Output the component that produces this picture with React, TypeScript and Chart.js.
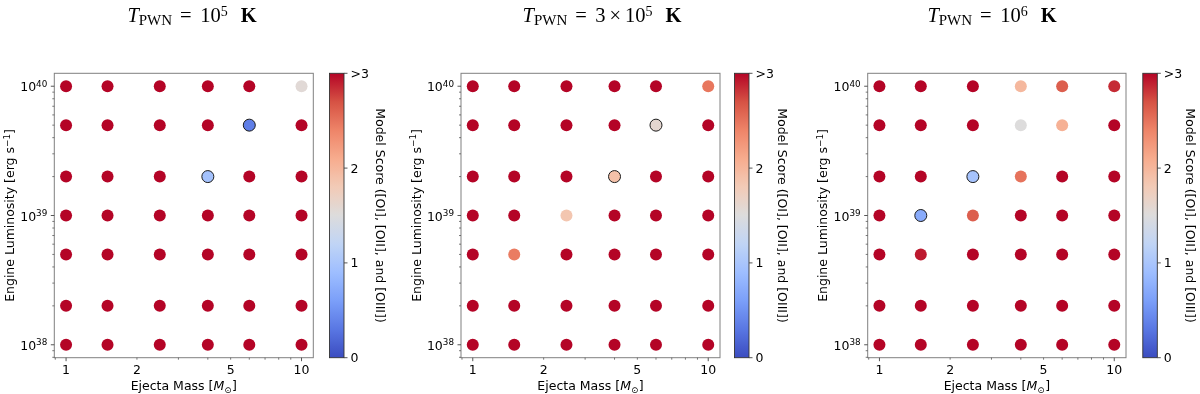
import React, { useEffect, useRef } from 'react';
import { Chart, registerables } from 'chart.js';
Chart.register(...registerables);

// ---------------- data ----------------
const masses = [1, 1.5, 2.5, 4, 6, 10];
const luminosities = [1e38, 2e38, 5e38, 1e39, 2e39, 5e39, 1e40];
const O = 4; // score above the colour-bar limit (">3")
// rows follow `luminosities` (low -> high), columns follow `masses`
const scoresT1e5 = [
  [O, O, O, O, O, O],
  [O, O, O, O, O, O],
  [O, O, O, O, O, O],
  [O, O, O, O, O, O],
  [O, O, O, 0.95, O, O],
  [O, O, O, O, 0.35, O],
  [O, O, O, O, O, 1.55],
];
const scoresT3e5 = [
  [O, O, O, O, O, O],
  [O, O, O, O, O, O],
  [O, 2.45, O, O, O, O],
  [O, O, 1.85, O, O, O],
  [O, O, O, 1.9, O, O],
  [O, O, O, O, 1.6, O],
  [O, O, O, O, O, 2.48],
];
const scoresT1e6 = [
  [O, O, O, O, O, O],
  [O, O, O, O, O, O],
  [O, 2.92, O, O, O, O],
  [O, 0.72, 2.62, O, O, O],
  [O, O, 0.97, 2.5, O, O],
  [O, O, O, 1.5, 2.05, O],
  [O, O, O, 1.98, 2.62, 2.85],
];
const outlinedT1e5 = [[6, 5e39], [4, 2e39]];
const outlinedT3e5 = [[6, 5e39], [4, 2e39]];
const outlinedT1e6 = [[2.5, 2e39], [1.5, 1e39]];

const xTickValues = [1, 2, 5, 10];
const xTickLabels = ['1', '2', '5', '10'];
const xMinorTicks = [0.9, 2, 3, 4, 5, 6, 7, 8, 9];
const yTickValues = [1e38, 1e39, 1e40];
const yTickExponents = ['38', '39', '40'];
const yMinorTicks = [8e37, 9e37, 2e38, 3e38, 4e38, 5e38, 6e38, 7e38, 8e38, 9e38, 2e39, 3e39, 4e39, 5e39, 6e39, 7e39, 8e39, 9e39];
const cbTickValues = [0, 1, 2, 3];
const cbTickLabels = ['0', '1', '2', '>3'];
const VMAX = 3;

// ---------------- styling ----------------
const SANS = '"DejaVu Sans"';
const SERIF = '"Liberation Serif"';
const FS = 12.5;
const SPINE = '#808080';
const TICK = '#444444';
const AX_TOP = 73.3;
const AX_BOTTOM = 357.7;
const H = 394;
const W = 400;

const coolwarmStops = ['#3b4cc0', '#5977e3', '#7b9ff9', '#9ebeff', '#c0d4f5', '#dddcdc', '#f2cbb7', '#f7ac8e', '#ee8468', '#d65244', '#b40426'];
function hexToRgb(h: string) {
  return [parseInt(h.slice(1, 3), 16), parseInt(h.slice(3, 5), 16), parseInt(h.slice(5, 7), 16)];
}
function coolwarm(t: number) {
  t = Math.max(0, Math.min(1, t));
  const p = t * (coolwarmStops.length - 1);
  const i = Math.min(Math.floor(p), coolwarmStops.length - 2);
  const f = p - i;
  const a = hexToRgb(coolwarmStops[i]);
  const b = hexToRgb(coolwarmStops[i + 1]);
  const c = a.map((v, k) => Math.round(v + (b[k] - v) * f));
  return `rgb(${c[0]},${c[1]},${c[2]})`;
}

type Part = { t: string; font: string; dy?: number; gap?: number };
function drawParts(ctx: CanvasRenderingContext2D, parts: Part[], x: number, y: number, align: 'left' | 'center' | 'right') {
  ctx.textAlign = 'left';
  ctx.textBaseline = 'alphabetic';
  let w = 0;
  for (const p of parts) {
    ctx.font = p.font;
    w += (p.gap || 0) + ctx.measureText(p.t).width;
  }
  let cx = align === 'left' ? x : align === 'center' ? x - w / 2 : x - w;
  for (const p of parts) {
    ctx.font = p.font;
    cx += p.gap || 0;
    ctx.fillText(p.t, cx, y + (p.dy || 0));
    cx += ctx.measureText(p.t).width;
  }
}

const f = (s: number, st = '') => `${st}${s}px ${SANS}`;
const tf = (s: number, st = '') => `${st}${s}px ${SERIF}`;

function titleParts(mid: Part[], exp: string): Part[] {
  return [
    { t: 'T', font: tf(20.5, 'italic ') },
    { t: 'PWN', font: tf(15), dy: 3.5 },
    { t: '=', font: tf(20.5), gap: 8 },
    ...mid,
    { t: exp, font: tf(14), dy: -6 },
    { t: 'K', font: tf(20.5, 'bold '), gap: 13 },
  ];
}

// positions are local to each 400px-wide canvas
const panels = [
  {
    scores: scoresT1e5, outlined: outlinedT1e5, ox: 0, axL: 54.3, axR: 313.3, cbL: 329.5, cbLabelX: 376, titleX: 192,
    title: titleParts([{ t: '10', font: tf(20.5), gap: 8.5 }], '5'),
  },
  {
    scores: scoresT3e5, outlined: outlinedT3e5, ox: 400, axL: 61, axR: 320, cbL: 334.5, cbLabelX: 377.5, titleX: 202,
    title: titleParts([
      { t: '3', font: tf(20.5), gap: 8.5 },
      { t: '×', font: tf(20.5), gap: 4 },
      { t: '10', font: tf(20.5), gap: 4 },
    ], '5'),
  },
  {
    scores: scoresT1e6, outlined: outlinedT1e6, ox: 800, axL: 67.7, axR: 326, cbL: 342.8, cbLabelX: 385.5, titleX: 192,
    title: titleParts([{ t: '10', font: tf(20.5), gap: 8.5 }], '6'),
  },
];
const CB_W = 14.5;

function makeDecor(p: typeof panels[number]) {
  return {
    id: 'decor',
    afterDraw(chart: any) {
      const ctx: CanvasRenderingContext2D = chart.ctx;
      const xs = chart.scales.x;
      const ys = chart.scales.y;
      const a = chart.chartArea;
      ctx.save();
      // frame
      ctx.strokeStyle = SPINE;
      ctx.lineWidth = 1;
      ctx.strokeRect(a.left, a.top, a.right - a.left, a.bottom - a.top);
      // ticks
      ctx.strokeStyle = TICK;
      const tick = (x1: number, y1: number, x2: number, y2: number, lw: number) => {
        ctx.lineWidth = lw;
        ctx.beginPath();
        ctx.moveTo(x1, y1);
        ctx.lineTo(x2, y2);
        ctx.stroke();
      };
      for (const v of xMinorTicks) {
        const x = xs.getPixelForValue(v);
        tick(x, a.bottom, x, a.bottom + 2, 0.7);
      }
      for (const v of [1, 10]) {
        const x = xs.getPixelForValue(v);
        tick(x, a.bottom, x, a.bottom + 3.5, 0.9);
      }
      for (const v of yMinorTicks) {
        const y = ys.getPixelForValue(v);
        tick(a.left - 2, y, a.left, y, 0.7);
      }
      for (const v of yTickValues) {
        const y = ys.getPixelForValue(v);
        tick(a.left - 3.5, y, a.left, y, 0.9);
      }
      ctx.fillStyle = '#000';
      // x tick labels
      xTickValues.forEach((v, i) => {
        const x = xs.getPixelForValue(v);
        drawParts(ctx, [{ t: xTickLabels[i], font: f(FS) }], x, a.bottom + 16.3, 'center');
      });
      // y tick labels
      yTickValues.forEach((v, i) => {
        const y = ys.getPixelForValue(v);
        drawParts(ctx, [
          { t: '10', font: f(FS) },
          { t: yTickExponents[i], font: f(8.8), dy: -4.5 },
        ], a.left - 7, y + 5, 'right');
      });
      // x title
      drawParts(ctx, [
        { t: 'Ejecta Mass [', font: f(FS) },
        { t: 'M', font: f(FS, 'italic ') },
        { t: '⊙', font: f(8.8), dy: 2.5 },
        { t: ']', font: f(FS), gap: 0.5 },
      ], (a.left + a.right) / 2, a.bottom + 32.3, 'center');
      // y title
      ctx.save();
      ctx.translate(a.left - 40.3, (a.top + a.bottom) / 2);
      ctx.rotate(-Math.PI / 2);
      drawParts(ctx, [
        { t: 'Engine Luminosity [erg s', font: f(FS) },
        { t: '−1', font: f(8.8), dy: -4.5 },
        { t: ']', font: f(FS) },
      ], 0, 0, 'center');
      ctx.restore();
      // colour bar
      const cbL = p.cbL;
      const cbR = p.cbL + CB_W;
      const grad = ctx.createLinearGradient(0, a.bottom, 0, a.top);
      for (let i = 0; i <= 50; i++) grad.addColorStop(i / 50, coolwarm(i / 50));
      ctx.fillStyle = grad;
      ctx.fillRect(cbL, a.top, CB_W, a.bottom - a.top);
      ctx.strokeStyle = '#333';
      ctx.lineWidth = 0.9;
      ctx.strokeRect(cbL, a.top, CB_W, a.bottom - a.top);
      ctx.fillStyle = '#000';
      cbTickValues.forEach((v, i) => {
        const y = a.bottom - (v / VMAX) * (a.bottom - a.top);
        ctx.strokeStyle = TICK;
        tick(cbR, y, cbR + 3.5, y, 0.9);
        drawParts(ctx, [{ t: cbTickLabels[i], font: f(FS) }], cbR + 6.5, y + 4.5, 'left');
      });
      ctx.save();
      ctx.translate(p.cbLabelX, (a.top + a.bottom) / 2);
      ctx.rotate(Math.PI / 2);
      drawParts(ctx, [{ t: 'Model Score ([OI], [OII], and [OIII])', font: f(FS) }], 0, 0, 'center');
      ctx.restore();
      // title
      drawParts(ctx, p.title, p.titleX, 21.7, 'center');
      ctx.restore();
    },
  };
}

function Panel({ p }: { p: typeof panels[number] }) {
  const ref = useRef<HTMLCanvasElement>(null);
  useEffect(() => {
    if (!ref.current) return;
    const pts: { x: number; y: number }[] = [];
    const bg: string[] = [];
    const bc: string[] = [];
    const bw: number[] = [];
    luminosities.forEach((L, r) => {
      masses.forEach((m, c) => {
        const s = p.scores[r][c];
        pts.push({ x: m, y: L });
        const col = coolwarm(Math.min(s, VMAX) / VMAX);
        bg.push(col);
        const out = p.outlined.some(([om, ol]) => om === m && ol === L);
        bc.push(out ? '#1a1a1a' : col);
        bw.push(out ? 1 : 0);
      });
    });
    const chart = new Chart(ref.current, {
      type: 'scatter',
      data: {
        datasets: [{
          data: pts,
          pointRadius: 6,
          pointHoverRadius: 6,
          pointBackgroundColor: bg,
          pointBorderColor: bc,
          pointBorderWidth: bw,
        }],
      },
      options: {
        animation: false,
        responsive: false,
        events: [],
        layout: { padding: { left: 0, right: W - p.axR, top: AX_TOP, bottom: 0 } },
        plugins: { legend: { display: false }, tooltip: { enabled: false } },
        scales: {
          x: {
            type: 'logarithmic',
            min: Math.pow(10, -0.05),
            max: Math.pow(10, 1.05),
            grid: { display: false },
            border: { display: false },
            ticks: { display: false },
            afterFit: (s: any) => { s.height = H - AX_BOTTOM; },
          },
          y: {
            type: 'logarithmic',
            min: Math.pow(10, 37.9),
            max: Math.pow(10, 40.1),
            grid: { display: false },
            border: { display: false },
            ticks: { display: false },
            afterFit: (s: any) => { s.width = p.axL; },
          },
        },
      } as any,
      plugins: [makeDecor(p) as any],
    });
    return () => chart.destroy();
  }, [p]);
  return (
    <canvas
      ref={ref}
      width={W}
      height={H}
      style={{ position: 'absolute', left: p.ox, top: 0, width: W, height: H }}
    />
  );
}

export default function App() {
  return (
    <div style={{ position: 'absolute', left: 0, top: 0, width: 1200, height: H, background: '#fff', overflow: 'hidden' }}>
      {panels.map((p, i) => <Panel key={i} p={p} />)}
    </div>
  );
}
